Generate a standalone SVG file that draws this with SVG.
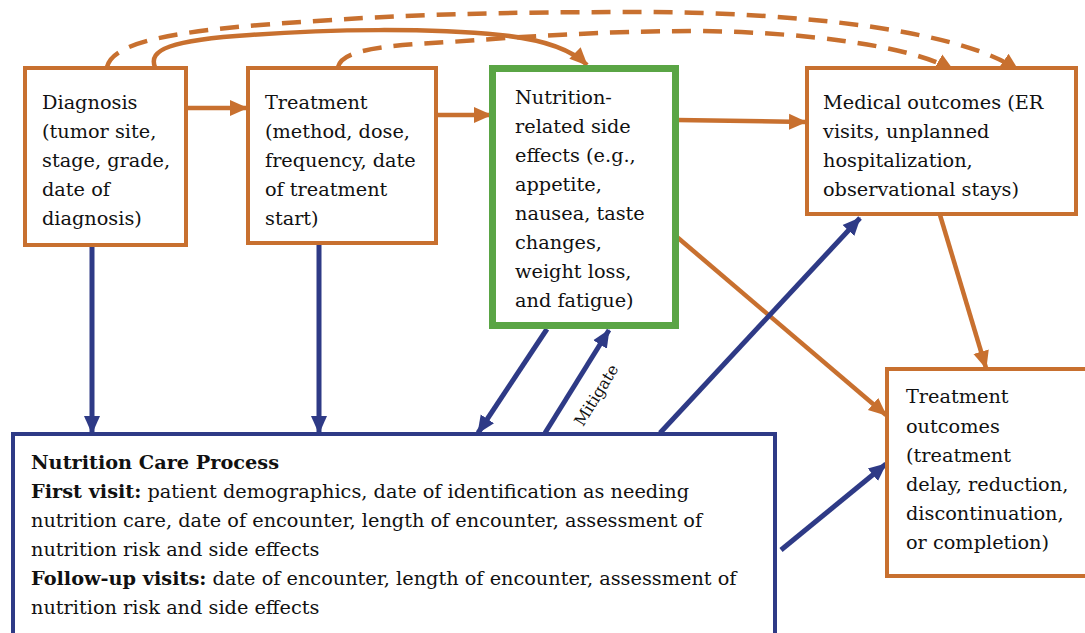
<svg xmlns="http://www.w3.org/2000/svg" width="1085" height="633" viewBox="0 0 1085 633">
<style>
.t{font-family:"DejaVu Serif","Liberation Serif",serif;font-size:19.3px;fill:#111}
.b{font-weight:bold}
.ob{fill:#fff;stroke:#C8702F;stroke-width:4}
.gb{fill:#fff;stroke:#5AA545;stroke-width:7}
.bb{fill:#fff;stroke:#2E3A86;stroke-width:4}
.oc{fill:none;stroke:#C8702F;stroke-width:4.5}
.bc{fill:none;stroke:#2E3A86;stroke-width:5}
.dash{stroke-dasharray:19 12}
.m{font-family:"DejaVu Serif","Liberation Serif",serif;font-size:16px;fill:#111}
</style>
<defs>
<marker id="ao" markerUnits="userSpaceOnUse" markerWidth="20" markerHeight="20" refX="17" refY="9" orient="auto"><path d="M0,1 L18,9 L0,17 Z" fill="#C8702F"/></marker>
<marker id="ab" markerUnits="userSpaceOnUse" markerWidth="20" markerHeight="20" refX="17" refY="9" orient="auto"><path d="M0,1 L18,9 L0,17 Z" fill="#2E3A86"/></marker>
</defs>
<rect width="1085" height="633" fill="#fff"/>
<g id="connectors">
<path class="oc dash" d="M107,67 C112,45 160,33 260,25 C400,14 500,12 650,12 C800,13 960,30 1018,70" marker-end="url(#ao)"/>
<path class="oc dash" d="M338,67 C342,52 370,46 450,42 C520,37 600,31 700,31 C800,32 910,45 953,70" marker-end="url(#ao)"/>
<path class="oc" d="M155,67 C148,50 170,40 250,35 C330,29 430,28 500,35 C540,39 570,48 587,65" marker-end="url(#ao)"/>
<path class="oc" d="M187,108 L247,108" marker-end="url(#ao)"/>
<path class="oc" d="M437,115 L491,115" marker-end="url(#ao)"/>
<path class="oc" d="M677,120 L806,122" marker-end="url(#ao)"/>
<path class="oc" d="M677,237 L886,415" marker-end="url(#ao)"/>
<path class="oc" d="M940,215 L986,368" marker-end="url(#ao)"/>
<path class="bc" d="M92,245 L92,433" marker-end="url(#ab)"/>
<path class="bc" d="M319,243 L319,433" marker-end="url(#ab)"/>
<path class="bc" d="M547,329 L478,433" marker-end="url(#ab)"/>
<path class="bc" d="M545,433 L609,330" marker-end="url(#ab)"/>
<path class="bc" d="M660,433 L860,218" marker-end="url(#ab)"/>
<path class="bc" d="M781,550 L886,464" marker-end="url(#ab)"/>
<text class="m" transform="translate(601,398) rotate(-58.5)" text-anchor="middle">Mitigate</text>
</g>
<g id="diagnosis">
<rect class="ob" x="25" y="68" width="161" height="177"/>
<text class="t" x="42" y="109">Diagnosis</text>
<text class="t" x="42" y="138">(tumor site,</text>
<text class="t" x="42" y="167">stage, grade,</text>
<text class="t" x="42" y="196">date of</text>
<text class="t" x="42" y="225">diagnosis)</text>
</g>
<g id="treatment">
<rect class="ob" x="248" y="68" width="188" height="175"/>
<text class="t" x="265" y="109">Treatment</text>
<text class="t" x="265" y="138">(method, dose,</text>
<text class="t" x="265" y="167">frequency, date</text>
<text class="t" x="265" y="196">of treatment</text>
<text class="t" x="265" y="225">start)</text>
</g>
<g id="side-effects">
<rect class="gb" x="492.5" y="68.5" width="183" height="257"/>
<text class="t" x="515" y="104">Nutrition-</text>
<text class="t" x="515" y="133">related side</text>
<text class="t" x="515" y="162">effects (e.g.,</text>
<text class="t" x="515" y="191">appetite,</text>
<text class="t" x="515" y="220">nausea, taste</text>
<text class="t" x="515" y="249">changes,</text>
<text class="t" x="515" y="278">weight loss,</text>
<text class="t" x="515" y="307">and fatigue)</text>
</g>
<g id="medical-outcomes">
<rect class="ob" x="807" y="68" width="269" height="146"/>
<text class="t" x="823" y="109">Medical outcomes (ER</text>
<text class="t" x="823" y="138">visits, unplanned</text>
<text class="t" x="823" y="167">hospitalization,</text>
<text class="t" x="823" y="196">observational stays)</text>
</g>
<g id="treatment-outcomes">
<rect class="ob" x="887" y="369" width="205" height="207"/>
<text class="t" x="906" y="403">Treatment</text>
<text class="t" x="906" y="433">outcomes</text>
<text class="t" x="906" y="462">(treatment</text>
<text class="t" x="906" y="491">delay, reduction,</text>
<text class="t" x="906" y="520">discontinuation,</text>
<text class="t" x="906" y="549">or completion)</text>
</g>
<g id="nutrition-care-process">
<rect class="bb" x="13" y="434" width="762" height="210"/>
<text class="t b" x="31" y="469">Nutrition Care Process</text>
<text class="t" x="31" y="498"><tspan class="b">First visit:</tspan> patient demographics, date of identification as needing</text>
<text class="t" x="31" y="527">nutrition care, date of encounter, length of encounter, assessment of</text>
<text class="t" x="31" y="556">nutrition risk and side effects</text>
<text class="t" x="31" y="585"><tspan class="b">Follow-up visits:</tspan> date of encounter, length of encounter, assessment of</text>
<text class="t" x="31" y="614">nutrition risk and side effects</text>
</g>
</svg>
